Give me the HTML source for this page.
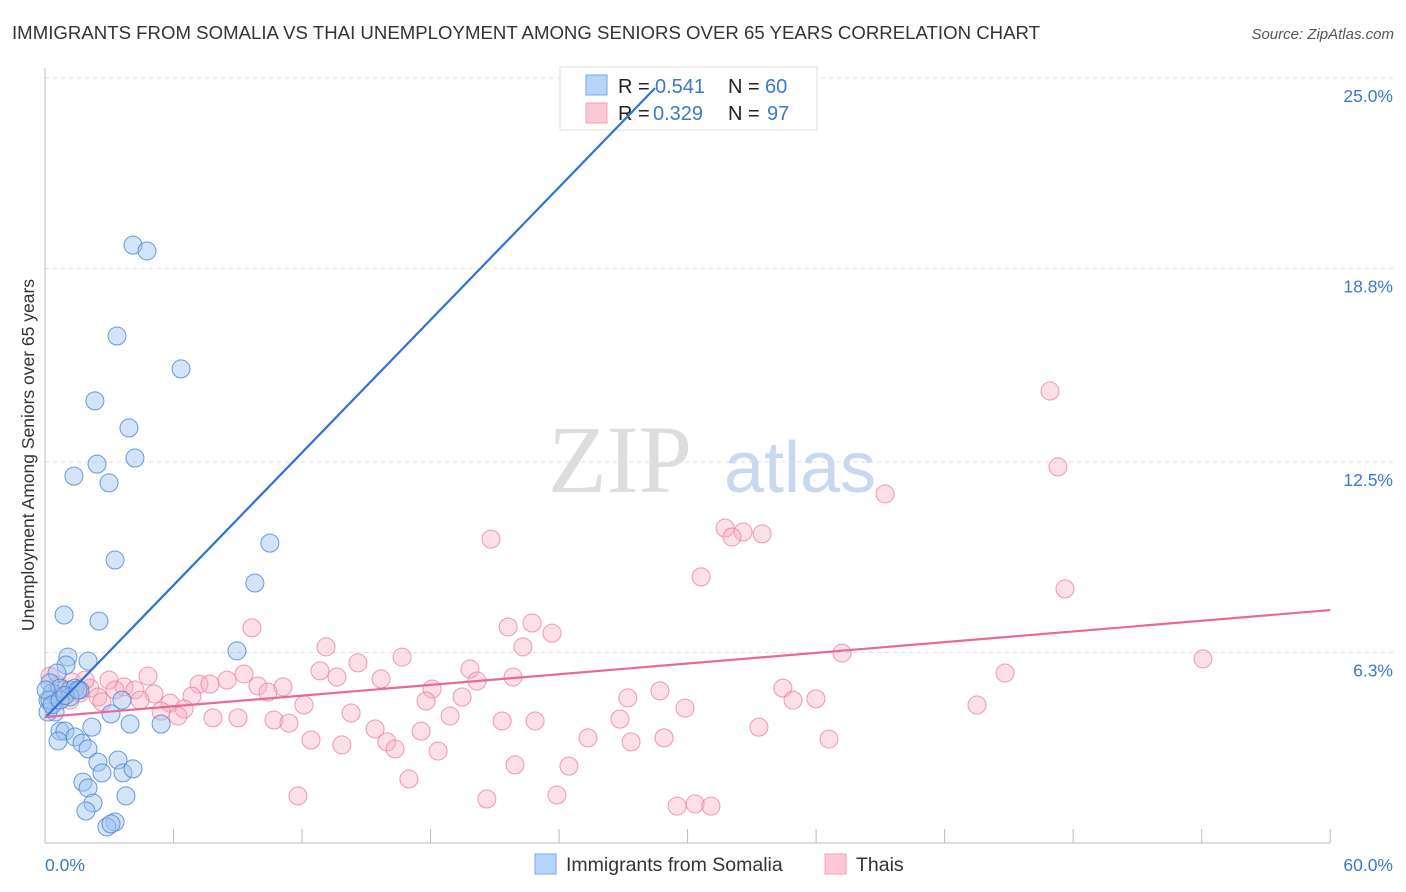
<!DOCTYPE html>
<html><head><meta charset="utf-8"><style>
body{margin:0;background:#fff;font-family:"Liberation Sans",sans-serif}
svg{display:block}
</style></head><body>
<svg id="chart" width="1406" height="892">
<text x="12" y="39" font-size="18.6" fill="#333" textLength="1028">IMMIGRANTS FROM SOMALIA VS THAI UNEMPLOYMENT AMONG SENIORS OVER 65 YEARS CORRELATION CHART</text>
<text x="1394" y="39" font-size="15" fill="#555" font-style="italic" text-anchor="end">Source: ZipAtlas.com</text>
<text x="620" y="492" font-size="96" fill="#ddd" font-family="Liberation Serif,serif" text-anchor="middle">ZIP</text>
<text x="800" y="492" font-size="72" fill="#c8d8f0" text-anchor="middle">atlas</text>
<text transform="translate(34,455) rotate(-90)" font-size="17.5" fill="#333" text-anchor="middle">Unemployment Among Seniors over 65 years</text>
<g id="grid"></g><g id="pts"></g>
<g>
<rect x="560" y="67" width="257" height="63" fill="#fff" stroke="#ddd"/>
<rect x="586" y="75" width="21" height="20" fill="#b8d4f8" stroke="#7aa8e8"/>
<rect x="586" y="103" width="21" height="20" fill="#fcc8d6" stroke="#f0a0b8"/>
<text x="618" y="93" font-size="20" fill="#222">R = </text><text x="655" y="93" font-size="20" fill="#3b78d0">0.541</text>
<text x="728" y="93" font-size="20" fill="#222">N = </text><text x="765" y="93" font-size="20" fill="#3b78d0">60</text>
<text x="618" y="120" font-size="20" fill="#222">R = </text><text x="653" y="120" font-size="20" fill="#3b78d0">0.329</text>
<text x="728" y="120" font-size="20" fill="#222">N = </text><text x="767" y="120" font-size="20" fill="#3b78d0">97</text>
</g>
<g id="lines"></g>
<g>
<rect x="535" y="854" width="21" height="20" fill="#b8d4f8" stroke="#7aa8e8"/>
<text x="566" y="871" font-size="19.5" fill="#333">Immigrants from Somalia</text>
<rect x="825" y="854" width="21" height="20" fill="#fcc8d6" stroke="#f0a0b8"/>
<text x="856" y="871" font-size="19.5" fill="#333">Thais</text>
</g>
</svg>
<script>
const yTicks=[6.3,12.5,18.8,25.0];
const xTickLabels=["0.0%","60.0%"];
const somaliaX=[4.11,4.76,3.36,6.35,2.33,3.92,2.43,4.20,1.35,2.99,10.50,3.27,9.80,0.89,2.52,8.96,1.07,2.01,0.98,0.56,0.23,0.33,0.70,1.17,1.40,1.63,1.17,0.14,0.47,0.14,3.08,3.59,2.19,5.42,3.97,0.70,0.93,0.61,1.40,1.73,2.01,2.47,2.66,3.41,3.64,4.11,1.77,2.01,3.78,2.24,1.91,3.27,2.89,3.08,0.23,0.05,0.33,0.70,0.93,1.54];
const somaliaY=[19.56,19.37,16.60,15.53,14.49,13.61,12.43,12.63,12.04,11.82,9.86,9.31,8.56,7.52,7.32,6.35,6.15,6.02,5.89,5.63,5.31,4.98,5.14,5.08,5.14,5.08,4.85,4.75,4.36,4.36,4.30,4.75,3.87,3.97,3.97,3.74,3.74,3.42,3.55,3.35,3.16,2.73,2.38,2.80,2.38,2.51,2.08,1.89,1.63,1.40,1.14,0.78,0.62,0.72,4.75,5.08,4.60,4.75,4.90,5.08];
const thaiX=[46.92,47.29,39.22,31.75,32.59,33.48,32.07,20.82,30.63,47.62,21.62,22.74,23.67,9.66,13.12,22.31,37.21,54.06,16.67,14.61,19.84,12.84,9.29,4.81,2.99,44.82,13.63,15.69,20.17,21.85,8.50,7.19,7.70,9.94,11.11,3.69,4.20,18.07,28.71,34.45,5.09,6.86,10.41,19.47,27.21,34.92,35.99,17.79,5.84,12.09,6.49,29.88,43.51,5.42,14.29,6.21,18.91,7.84,9.01,10.69,21.34,22.88,26.84,11.39,15.41,17.56,33.33,25.35,27.36,28.90,36.60,12.42,13.86,15.96,16.34,18.35,21.94,24.46,16.99,23.90,11.81,20.63,29.51,30.35,31.09,0.23,0.61,0.93,1.26,1.63,2.10,2.47,0.70,1.87,1.17,0.47,2.66,3.27,4.44];
const thaiY=[14.81,12.34,11.46,10.35,10.22,10.16,10.06,9.99,8.76,8.37,7.13,7.26,6.93,7.10,6.48,6.48,6.28,6.09,6.15,5.96,5.76,5.70,5.60,5.53,5.40,5.63,5.50,5.44,5.37,5.50,5.40,5.27,5.27,5.21,5.18,5.18,5.08,5.11,5.05,5.14,4.95,4.88,5.01,4.85,4.82,4.75,4.79,4.72,4.65,4.59,4.46,4.49,4.59,4.39,4.33,4.23,4.23,4.17,4.17,4.10,4.07,4.07,4.13,4.00,3.81,3.74,3.87,3.52,3.39,3.52,3.48,3.45,3.29,3.39,3.16,3.09,2.64,2.60,2.18,1.66,1.63,1.53,1.30,1.37,1.30,5.53,5.24,5.08,5.34,4.98,5.14,4.85,4.75,5.40,4.75,4.92,4.69,5.08,4.75];
const somaliaTrend=[0,4.17,28.48,24.67];
const thaiTrend=[0,4.2,60,7.68];
const NS="http://www.w3.org/2000/svg";
const X=v=>45+v*21.42, Y=v=>846-v*30.72;
function mk(t,a,p){const e=document.createElementNS(NS,t);for(const k in a)e.setAttribute(k,a[k]);p.appendChild(e);return e;}
const grid=document.getElementById('grid');
yTicks.forEach(t=>{
 const l=mk('line',{x1:45,x2:1394,y1:Y(t),y2:Y(t),stroke:'#ddd','stroke-dasharray':'4,4'},grid);
 
 
 const tx=mk('text',{x:1393,y:Y(t)+24,'font-size':17.5,fill:'#3b78d0','text-anchor':'end'},grid);
 tx.textContent=t.toFixed(1)+'%';
 
 
});
const xa=mk('line',{x1:45,x2:1330,y1:843,y2:843,stroke:'#bbb'},grid);


const ya=mk('line',{x1:45,x2:45,y1:68,y2:843,stroke:'#bbb'},grid);


for(let i=1;i<=10;i++){const tk=mk('line',{x1:X(i*6),x2:X(i*6),y1:829,y2:843,stroke:'#bbb'},grid);
 
 }
[[0,'start',45],[1,'end',1393]].forEach(([i,a,x])=>{const t=mk('text',{x:x,y:871,'font-size':17.5,fill:'#3b78d0','text-anchor':a},grid);t.textContent=xTickLabels[i];
 
 });
const pts=document.getElementById('pts');
thaiX.forEach((v,i)=>{const c=mk('circle',{cx:X(v),cy:Y(thaiY[i]),r:9,fill:'rgba(248,176,196,0.4)',stroke:'rgba(232,130,160,0.8)','stroke-width':1},pts);
 
 });
somaliaX.forEach((v,i)=>{const c=mk('circle',{cx:X(v),cy:Y(somaliaY[i]),r:9,fill:'rgba(160,196,240,0.45)',stroke:'rgba(70,130,210,0.8)','stroke-width':1},pts);
 
 });
const lines=document.getElementById('lines');
const l1=mk('line',{x1:X(somaliaTrend[0]),y1:Y(somaliaTrend[1]),x2:X(somaliaTrend[2]),y2:Y(somaliaTrend[3]),stroke:'#2f72d6','stroke-width':2.2},lines);


const l2=mk('line',{x1:X(thaiTrend[0]),y1:Y(thaiTrend[1]),x2:X(thaiTrend[2]),y2:Y(thaiTrend[3]),stroke:'#e8689a','stroke-width':2.2},lines);


</script>
</body></html>
